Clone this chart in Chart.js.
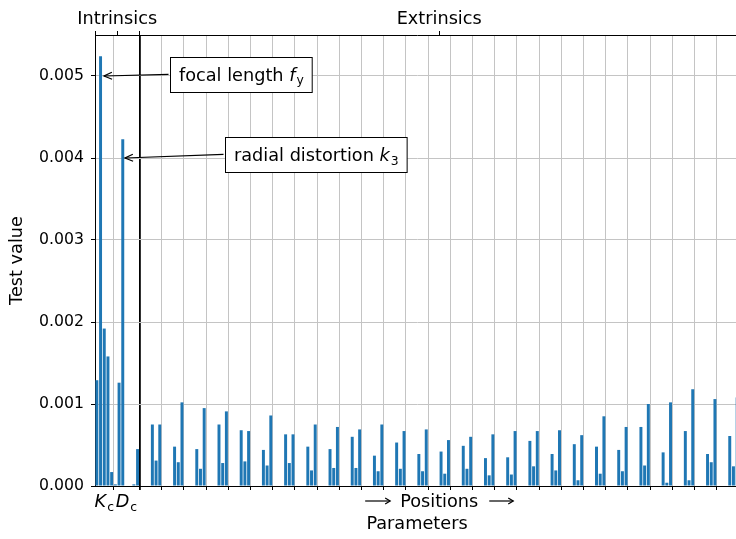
<!DOCTYPE html>
<html>
<head>
<meta charset="utf-8">
<script src="https://cdn.jsdelivr.net/npm/chart.js@4.4.0/dist/chart.umd.min.js"></script>
<style>
  html, body { margin: 0; padding: 0; background: #fff; overflow: hidden; }
  #wrap { width: 745px; height: 539px; }
</style>
</head>
<body>
<div id="wrap"><canvas id="chart"></canvas></div>
<script>
// Intrinsics: K_c (first 5) then D_c (next 7)
const kcCount = 5;
const intrinsicValues = [0.00129, 0.00524, 0.00192, 0.00158, 0.00017, 0.00002, 0.00126, 0.00423, 0, 0, 0.00002, 0.00045];

// Extrinsics: one group of 6 per position (3 rotations, 3 translations)
const rotXValues = [0, 0, 0, 0, 0, 0, 0, 0, 0, 0, 0, 0, 0, 0, 0, 0, 0, 0, 0, 0, 0, 0, 0, 0, 0, 0, 0];
const rotYValues = [0, 0, 0, 0, 0, 0, 0, 0, 0, 0, 0, 0, 0, 0, 0, 0, 0, 0, 0, 0, 0, 0, 0, 0, 0, 0, 0];
const rotZValues = [0, 0, 0, 0, 0, 0, 0, 0, 0, 0, 0, 0, 0, 0, 0, 0, 0, 0, 0, 0, 0, 0, 0, 0, 0, 0, 0];
const txValues = [0.00075, 0.00048, 0.00045, 0.00075, 0.00068, 0.00044, 0.00063, 0.00048, 0.00045, 0.00060, 0.00037, 0.00053, 0.00039, 0.00042, 0.00049, 0.00034, 0.00035, 0.00055, 0.00039, 0.00051, 0.00048, 0.00044, 0.00072, 0.00041, 0.00067, 0.00039, 0.00061];
const tyValues = [0.00031, 0.00029, 0.00021, 0.00028, 0.00030, 0.00025, 0.00028, 0.00019, 0.00022, 0.00022, 0.00018, 0.00021, 0.00018, 0.00015, 0.00021, 0.00013, 0.00014, 0.00024, 0.00019, 0.00007, 0.00015, 0.00018, 0.00025, 0.00004, 0.00007, 0.00029, 0.00024];
const tzValues = [0.00075, 0.00102, 0.00095, 0.00091, 0.00067, 0.00086, 0.00063, 0.00075, 0.00072, 0.00069, 0.00075, 0.00067, 0.00069, 0.00056, 0.00060, 0.00063, 0.00067, 0.00067, 0.00068, 0.00062, 0.00085, 0.00072, 0.00100, 0.00102, 0.00118, 0.00106, 0.00108];

const yTicks = [0, 0.001, 0.002, 0.003, 0.004, 0.005];
const yMax = 0.0055;
const topLabels = ['Intrinsics', 'Extrinsics'];

const FONT = '"DejaVu Sans", sans-serif';
const BAR = '#1f77b4';
const GRID = '#c4c4c4';

// build bars
const barData = intrinsicValues.map((v, i) => ({ x: i, y: v }));
txValues.forEach((_, g) => {
    const base = intrinsicValues.length + g * 6;
    [rotXValues[g], rotYValues[g], rotZValues[g], txValues[g], tyValues[g], tzValues[g]]
        .forEach((v, k) => barData.push({ x: base + k, y: v }));
});

const nGroups = txValues.length;
const xMin = -0.5;
const xMax = intrinsicValues.length + 6 * nGroups - 0.5;
const kcEnd = kcCount - 0.5;
const intrinsicEnd = intrinsicValues.length - 0.5;
const groupEdges = [kcEnd, intrinsicEnd];
for (let g = 1; g < nGroups; g++) groupEdges.push(intrinsicEnd + 6 * g);
const intrinsicMid = (xMin + intrinsicEnd) / 2;
const extrinsicMid = (intrinsicEnd + xMax) / 2;

// annotations, positions in data units
const annotations = [
    { parts: [['focal length ', 'n'], ['f', 'i'], ['y', 's']], tip: [1.93, 0.005], box: [19.75, 0.00502] },
    { parts: [['radial distortion ', 'n'], ['k', 'i'], ['3', 's']], tip: [7.6, 0.004], box: [34.6, 0.004043] }
];
const paramLabels = [
    { parts: [['K', 'i'], ['c', 's']], at: (xMin + kcEnd) / 2 },
    { parts: [['D', 'i'], ['c', 's']], at: (kcEnd + intrinsicEnd) / 2 }
];

function partFont(style, size) {
    if (style === 'i') return `italic ${size}px ${FONT}`;
    if (style === 's') return `${(size * 0.7).toFixed(2)}px ${FONT}`;
    return `${size}px ${FONT}`;
}
function richWidth(ctx, parts, size) {
    let w = 0;
    parts.forEach(([t, s]) => { ctx.font = partFont(s, size); w += ctx.measureText(t).width + (s === 'i' ? 1 : 0); });
    return w;
}
function drawRich(ctx, parts, left, baseline, size) {
    let xp = left;
    ctx.textAlign = 'left';
    ctx.textBaseline = 'alphabetic';
    parts.forEach(([t, s]) => {
        ctx.font = partFont(s, size);
        ctx.fillText(t, xp, s === 's' ? baseline + size * 0.2 : baseline);
        xp += ctx.measureText(t).width + (s === 'i' ? 1 : 0);
    });
}
function arrow(ctx, x0, y0, x1, y1, head, half) {
    ctx.beginPath(); ctx.moveTo(x0, y0); ctx.lineTo(x1, y1); ctx.stroke();
    const a = Math.atan2(y1 - y0, x1 - x0);
    ctx.beginPath();
    ctx.moveTo(x1 - head * Math.cos(a) + half * Math.sin(a), y1 - head * Math.sin(a) - half * Math.cos(a));
    ctx.lineTo(x1, y1);
    ctx.lineTo(x1 - head * Math.cos(a) - half * Math.sin(a), y1 - head * Math.sin(a) + half * Math.cos(a));
    ctx.stroke();
}

const overlayPlugin = {
    id: 'overlay',
    afterDraw(chart) {
        const ctx = chart.ctx;
        const xs = chart.scales.x, ys = chart.scales.y;
        const size = 17.7;
        ctx.save();
        ctx.fillStyle = '#000';
        ctx.strokeStyle = '#000';

        // K_c / D_c labels under the axis
        const base = chart.chartArea.bottom + 21;
        paramLabels.forEach(l => {
            const w = richWidth(ctx, l.parts, size);
            drawRich(ctx, l.parts, xs.getPixelForValue(l.at) - w / 2, base, size);
        });

        // -> Positions ->
        ctx.font = `${size}px ${FONT}`;
        const pw = ctx.measureText('Positions').width;
        const pc = xs.getPixelForValue(extrinsicMid);
        ctx.textAlign = 'center';
        ctx.textBaseline = 'alphabetic';
        ctx.fillText('Positions', pc, base);
        ctx.lineWidth = 1.2;
        arrow(ctx, pc - pw / 2 - 35, base - 6, pc - pw / 2 - 10, base - 6, 5, 3);
        arrow(ctx, pc + pw / 2 + 11, base - 6, pc + pw / 2 + 35, base - 6, 5, 3);

        // annotation boxes with arrows
        annotations.forEach(a => {
            const left = Math.round(xs.getPixelForValue(a.box[0])) + 0.5;
            const mid = ys.getPixelForValue(a.box[1]);
            const tw = richWidth(ctx, a.parts, size);
            const top = Math.round(mid - 17.5) + 0.5;
            ctx.fillStyle = '#fff';
            ctx.fillRect(left, top, tw + 17, 35);
            ctx.lineWidth = 1;
            ctx.strokeRect(left, top, tw + 17, 35);
            ctx.fillStyle = '#000';
            drawRich(ctx, a.parts, left + 8.5, mid + 6.5, size);
            ctx.lineWidth = 1.25;
            arrow(ctx, left - 2, mid, xs.getPixelForValue(a.tip[0]), ys.getPixelForValue(a.tip[1]), 8, 3.5);
        });
        ctx.restore();
    }
};

new Chart(document.getElementById('chart'), {
    type: 'bar',
    data: {
        datasets: [{
            data: barData,
            xAxisID: 'x',
            yAxisID: 'y',
            backgroundColor: BAR,
            borderWidth: 0,
            categoryPercentage: 1,
            barPercentage: 0.8
        }]
    },
    options: {
        responsive: true,
        maintainAspectRatio: false,
        animation: false,
        layout: { padding: { left: 0, right: 6, top: 0, bottom: 0 } },
        plugins: { legend: { display: false }, tooltip: { enabled: false } },
        scales: {
            x: {
                type: 'linear',
                position: 'bottom',
                min: xMin,
                max: xMax,
                offset: false,
                afterBuildTicks: s => { s.ticks = groupEdges.map(v => ({ value: v })); },
                afterFit: s => { s.height = 53; },
                ticks: { display: false },
                grid: {
                    offset: false,
                    color: c => (c.tick && c.tick.value === intrinsicEnd) ? '#000' : GRID,
                    lineWidth: c => (c.tick && c.tick.value === intrinsicEnd) ? 1.8 : 1,
                    tickColor: '#000',
                    tickLength: 4
                },
                border: { color: '#000', width: 1 },
                title: {
                    display: true, text: 'Parameters', color: '#000',
                    font: { family: FONT, size: 17.7 },
                    padding: { top: 0, bottom: 4.4 }
                }
            },
            xTop: {
                type: 'linear',
                position: 'top',
                min: xMin,
                max: xMax,
                offset: false,
                afterBuildTicks: s => {
                    s.ticks = [xMin, intrinsicMid, intrinsicEnd, extrinsicMid, xMax].map(v => ({ value: v }));
                },
                afterFit: s => { s.height = 35; },
                ticks: {
                    autoSkip: false,
                    maxRotation: 0,
                    padding: 1.4,
                    color: '#000',
                    font: { family: FONT, size: 17.7 },
                    callback: v => v === intrinsicMid ? topLabels[0] : (v === extrinsicMid ? topLabels[1] : '')
                },
                grid: { offset: false, drawOnChartArea: false, tickColor: '#000', tickLength: 4 },
                border: { color: '#000', width: 1 }
            },
            y: {
                min: 0,
                max: yMax,
                afterBuildTicks: s => { s.ticks = yTicks.map(v => ({ value: v })); },
                afterFit: s => { s.width = 95; },
                ticks: {
                    color: '#000',
                    padding: 7,
                    font: { family: FONT, size: 15.7 },
                    callback: v => v.toFixed(3)
                },
                grid: {
                    color: c => (c.tick && c.tick.value === 0) ? '#000' : GRID,
                    tickColor: '#000',
                    tickLength: 4
                },
                border: { color: '#000', width: 1 },
                title: {
                    display: true, text: 'Test value', color: '#000',
                    font: { family: FONT, size: 17.7 },
                    padding: { top: 6.4, bottom: 0 }
                }
            }
        }
    },
    plugins: [overlayPlugin]
});
</script>
</body>
</html>
